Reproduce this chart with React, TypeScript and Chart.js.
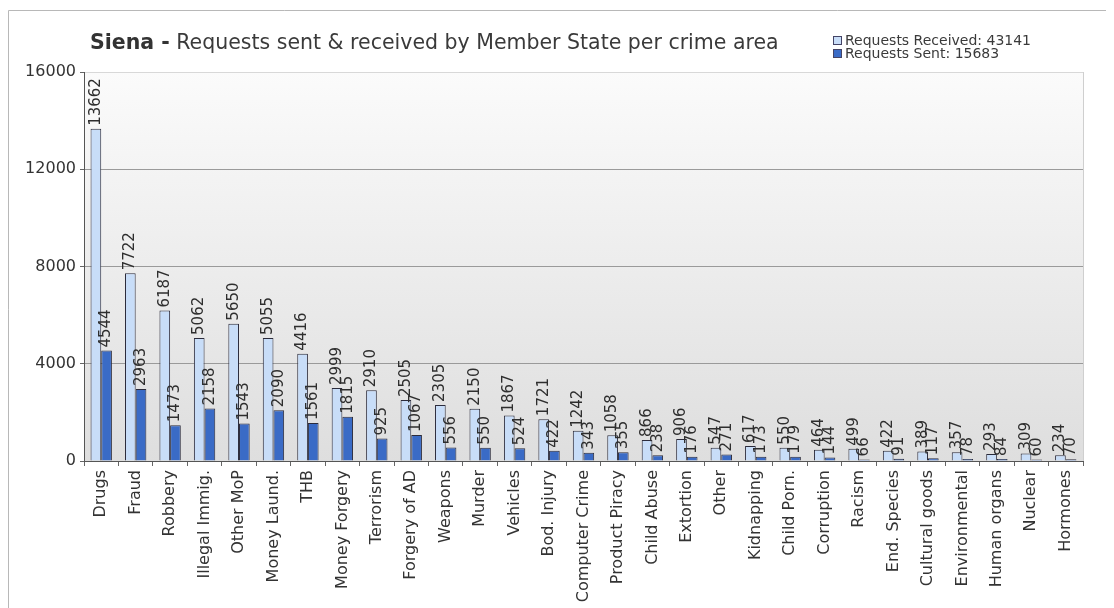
import React, { useEffect, useRef } from "react";
import { Chart, registerables } from "chart.js";

Chart.register(...registerables);

const categories = [
  "Drugs", "Fraud", "Robbery", "Illegal Immig.", "Other MoP", "Money Laund.", "THB",
  "Money Forgery", "Terrorism", "Forgery of AD", "Weapons", "Murder", "Vehicles",
  "Bod. Injury", "Computer Crime", "Product Piracy", "Child Abuse", "Extortion", "Other",
  "Kidnapping", "Child Porn.", "Corruption", "Racism", "End. Species", "Cultural goods",
  "Environmental", "Human organs", "Nuclear", "Hormones",
];

const receivedValues = [
  13662, 7722, 6187, 5062, 5650, 5055, 4416, 2999, 2910, 2505, 2305, 2150, 1867, 1721,
  1242, 1058, 866, 906, 547, 617, 550, 464, 499, 422, 389, 357, 293, 309, 234,
];

const sentValues = [
  4544, 2963, 1473, 2158, 1543, 2090, 1561, 1815, 925, 1067, 556, 550, 524, 422,
  343, 355, 238, 176, 271, 173, 179, 144, 66, 91, 117, 78, 84, 60, 70,
];

const seriesLabels = ["Requests Received: 43141", "Requests Sent: 15683"];
const titleBold = "Siena -";
const titleRest = " Requests sent & received by Member State per crime area";

const yMin = 0;
const yMax = 16000;
const yStep = 4000;

const FONT = "'DejaVu Sans', Verdana, sans-serif";
const receivedColor = "#c8ddf8";
const sentColor = "#3a6bc6";
const borderDark = "#2b2b3b";

const decorPlugin = {
  id: "decor",
  beforeDraw(chart: any) {
    const { ctx, chartArea, width, height } = chart;
    ctx.save();
    ctx.fillStyle = "#ffffff";
    ctx.fillRect(0, 0, width, height);
    // outer frame
    ctx.strokeStyle = "#b8b8b8";
    ctx.lineWidth = 1;
    ctx.beginPath();
    ctx.moveTo(0.5, height + 5);
    ctx.lineTo(0.5, 2.5);
    ctx.lineTo(width - 0.5, 2.5);
    ctx.lineTo(width - 0.5, height + 5);
    ctx.stroke();
    // plot background
    const g = ctx.createLinearGradient(0, chartArea.top, 0, chartArea.bottom);
    g.addColorStop(0, "#fbfbfb");
    g.addColorStop(0.45, "#eeeeee");
    g.addColorStop(1, "#dedede");
    ctx.fillStyle = g;
    ctx.fillRect(chartArea.left, chartArea.top, chartArea.right - chartArea.left, chartArea.bottom - chartArea.top);
    ctx.strokeStyle = "#cfcfcf";
    ctx.beginPath();
    ctx.moveTo(chartArea.right + 0.5, chartArea.top);
    ctx.lineTo(chartArea.right + 0.5, chartArea.bottom);
    ctx.stroke();
    ctx.restore();
  },
  afterDraw(chart: any) {
    const { ctx } = chart;
    ctx.save();
    // title
    ctx.textBaseline = "alphabetic";
    ctx.textAlign = "left";
    ctx.fillStyle = "#333333";
    ctx.font = `bold 20.5px ${FONT}`;
    const tx = 82;
    const ty = 41;
    ctx.fillText(titleBold, tx, ty);
    const bw = ctx.measureText(titleBold).width;
    ctx.font = `20.5px ${FONT}`;
    ctx.fillStyle = "#3a3a3a";
    ctx.fillText(titleRest, tx + bw, ty);
    // legend
    ctx.font = `14px ${FONT}`;
    ctx.textBaseline = "middle";
    const lx = 825;
    const rows = [33, 46];
    chart.data.datasets.forEach((ds: any, i: number) => {
      const cy = rows[i];
      ctx.fillStyle = ds.backgroundColor;
      ctx.fillRect(lx + 0.5, cy - 4.5, 8, 8);
      ctx.strokeStyle = "#444466";
      ctx.lineWidth = 1;
      ctx.strokeRect(lx + 0.5, cy - 4.5, 8, 8);
      ctx.fillStyle = "#3a3a3a";
      ctx.fillText(ds.label, lx + 12, cy);
    });
    // value labels
    ctx.font = `15px ${FONT}`;
    ctx.fillStyle = "#2e2e2e";
    ctx.textAlign = "left";
    ctx.textBaseline = "middle";
    chart.data.datasets.forEach((ds: any, di: number) => {
      const meta = chart.getDatasetMeta(di);
      meta.data.forEach((el: any, i: number) => {
        const v = ds.data[i];
        ctx.save();
        ctx.translate(el.x, el.y - 3);
        ctx.rotate(-Math.PI / 2);
        ctx.fillText(String(v), 0, 0);
        ctx.restore();
      });
    });
    ctx.restore();
  },
};

export default function App() {
  const ref = useRef<HTMLCanvasElement | null>(null);
  useEffect(() => {
    if (!ref.current) return;
    const chart = new Chart(ref.current, {
      type: "bar",
      data: {
        labels: categories,
        datasets: [
          {
            label: seriesLabels[0],
            data: receivedValues,
            backgroundColor: receivedColor,
            borderColor: borderDark,
            borderWidth: 1,
            barPercentage: 1,
            categoryPercentage: 0.62,
          },
          {
            label: seriesLabels[1],
            data: sentValues,
            backgroundColor: sentColor,
            borderColor: borderDark,
            borderWidth: 1,
            barPercentage: 1,
            categoryPercentage: 0.62,
          },
        ],
      },
      options: {
        responsive: false,
        animation: false,
        layout: { padding: { top: 64, right: 31, bottom: 0, left: 0 } },
        plugins: {
          legend: { display: false },
          title: { display: false },
          tooltip: { enabled: false },
        },
        scales: {
          x: {
            grid: { display: true, drawOnChartArea: false, drawTicks: true, tickLength: 5, color: "#666666", offset: true },
            border: { display: true, color: "#555555" },
            ticks: {
              minRotation: 90,
              maxRotation: 90,
              autoSkip: false,
              padding: 4,
              color: "#333333",
              font: { family: FONT, size: 16 },
            },
            afterFit(scale: any) {
              scale.height = 147;
            },
          },
          y: {
            min: yMin,
            max: yMax,
            ticks: {
              stepSize: yStep,
              padding: 4,
              color: "#333333",
              font: { family: FONT, size: 16 },
              callback: (v: any) => String(v),
            },
            grid: {
              color: (c: any) => (c.tick && c.tick.value === yMax ? "#d8d8d8" : "#9a9a9a"),
              tickLength: 4,
              tickColor: "#666666",
            },
            border: { display: true, color: "#555555" },
            afterFit(scale: any) {
              scale.width = 76;
            },
          },
        },
      },
      plugins: [decorPlugin],
    } as any);
    return () => chart.destroy();
  }, []);
  return (
    <canvas ref={ref} width={1106} height={600} style={{ display: "block" }} />
  );
}
